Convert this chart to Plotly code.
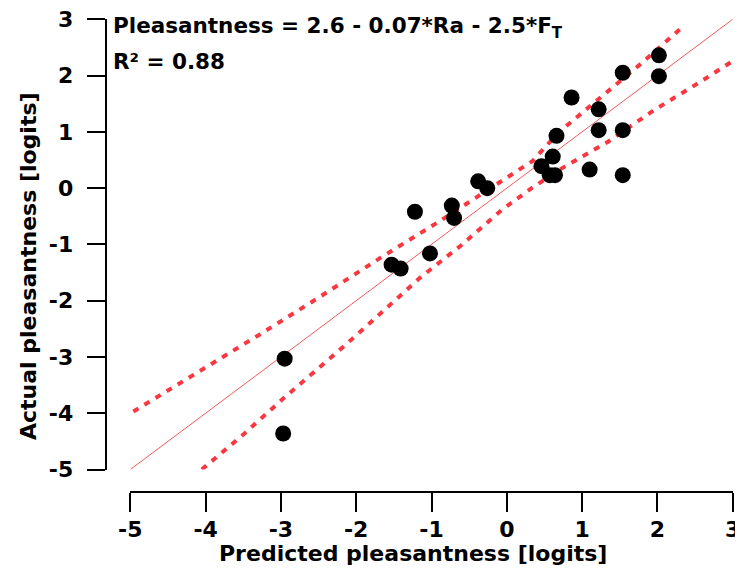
import plotly.graph_objects as go

# ---- data ----
predicted = [2.02, 2.02, 1.54, 0.86, 1.22, 1.22, 1.54, 0.66, 0.61, 0.46, 0.57, 0.64,
             1.10, 1.54, -1.22, -0.73, -0.70, -0.38, -0.26, -1.02, -1.53, -1.41,
             -2.95, -2.97]
actual = [2.36, 1.99, 2.05, 1.61, 1.40, 1.03, 1.03, 0.93, 0.56, 0.39, 0.23, 0.23,
          0.33, 0.23, -0.42, -0.31, -0.53, 0.12, 0.00, -1.16, -1.36, -1.43,
          -3.03, -4.36]

identity_x = [-5, 3]
identity_y = [-5, 3]

upper_x = [-4.96, -4.11, -3.28, -2.48, -1.68, -0.86, -0.05, 0.34, 0.68, 1.23, 1.79, 2.33]
upper_y = [-3.97, -3.28, -2.60, -1.93, -1.24, -0.56, 0.13, 0.48, 0.98, 1.60, 2.22, 2.86]

lower_x = [-4.05, -3.50, -2.97, -2.61, -2.24, -1.87, -1.15, -0.60, -0.07, 0.33, 0.74,
           1.34, 1.96, 2.56, 2.98]
lower_y = [-5.00, -4.38, -3.74, -3.33, -2.90, -2.46, -1.59, -1.01, -0.39, 0.00, 0.36,
           0.82, 1.39, 1.88, 2.24]

tick_vals = [-5, -4, -3, -2, -1, 0, 1, 2, 3]
tick_text = ["-5", "-4", "-3", "-2", "-1", "0", "1", "2", "3"]

x_title = "Predicted pleasantness [logits]"
y_title = "Actual pleasantness [logits]"
eq_text = "Pleasantness = 2.6 - 0.07*Ra - 2.5*F<sub>T</sub>"
r2_text = "R² = 0.88"

W, H = 743, 577
OFF = 8  # page body margin offset


def px(xp):
    return (xp - OFF) / W


def py(yp):
    return (H - (yp - OFF)) / H


FONT = dict(family="DejaVu Sans", size=22, color="black", weight="bold")

fig = go.Figure()
fig.add_trace(go.Scatter(x=identity_x, y=identity_y, mode="lines",
                         line=dict(color="rgb(240,90,90)", width=1), hoverinfo="skip"))
fig.add_trace(go.Scatter(x=upper_x, y=upper_y, mode="lines",
                         line=dict(color="rgb(250,55,65)", width=4, dash="6px,7px")))
fig.add_trace(go.Scatter(x=lower_x, y=lower_y, mode="lines",
                         line=dict(color="rgb(250,55,65)", width=4, dash="6px,7px")))
fig.add_trace(go.Scatter(x=predicted, y=actual, mode="markers",
                         marker=dict(color="black", size=16, line=dict(width=0))))

fig.update_layout(
    width=W, height=H,
    margin=dict(l=0, r=0, t=0, b=0, pad=0),
    paper_bgcolor="white", plot_bgcolor="white",
    showlegend=False,
    font=FONT,
    xaxis=dict(range=[-5, 3], domain=[px(130.3), px(732.7)],
               anchor="free", position=py(492.3),
               showgrid=False, zeroline=False,
               showline=True, linecolor="black", linewidth=2,
               ticks="outside", ticklen=19, tickwidth=2, tickcolor="black",
               tickvals=tick_vals, ticktext=tick_text, tickfont=FONT,
               ticklabelstandoff=-2, ticklabeloverflow="allow", automargin=False),
    yaxis=dict(range=[-5, 3], domain=[py(469.5), py(19.3)],
               anchor="free", position=px(105.7),
               showgrid=False, zeroline=False,
               showline=True, linecolor="black", linewidth=2,
               ticks="outside", ticklen=18, tickwidth=2, tickcolor="black",
               tickvals=tick_vals, ticktext=tick_text, tickfont=FONT,
               ticklabelstandoff=9, ticklabeloverflow="allow", automargin=False),
)

fig.add_annotation(text=x_title, xref="paper", yref="paper",
                   x=px(413), y=py(553), xanchor="center", yanchor="middle",
                   showarrow=False, font=FONT)
fig.add_annotation(text=y_title, xref="paper", yref="paper", textangle=-90,
                   x=px(28), y=py(266), xanchor="center", yanchor="middle",
                   showarrow=False, font=FONT)
fig.add_annotation(text=eq_text, xref="paper", yref="paper",
                   x=px(111), y=py(27), xanchor="left", yanchor="middle",
                   showarrow=False, font=dict(FONT, size=21.5))
fig.add_annotation(text=r2_text, xref="paper", yref="paper",
                   x=px(111), y=py(61), xanchor="left", yanchor="middle",
                   showarrow=False, font=dict(FONT, size=21.5))

fig.write_html("out.html")
